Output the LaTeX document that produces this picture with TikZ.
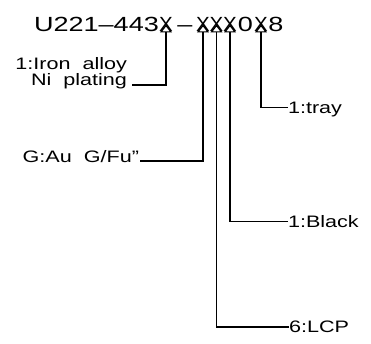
\documentclass[tikz,border=0pt]{standalone}
\usepackage{fontspec}
\setmainfont{Liberation Sans}
\newfontfamily\cadfont[FakeStretch=1.3]{Liberation Sans}
\newfontfamily\ttlfont[FakeStretch=1.32]{Liberation Sans}
\newfontfamily\xfont{Liberation Sans}
\usetikzlibrary{arrows.meta}
\begin{document}
\begin{tikzpicture}[x=1pt,y=-1pt,
  ttl/.style={inner sep=0pt,outer sep=0pt,anchor=base,font=\ttlfont\fontsize{20.5}{20.5}\selectfont},
  xch/.style={inner sep=0pt,outer sep=0pt,anchor=base,font=\xfont\fontsize{20.5}{20.5}\selectfont},
  lbl/.style={inner sep=0pt,outer sep=0pt,font=\cadfont\fontsize{16.6}{16.6}\selectfont},
  rlbl/.style={lbl,anchor=west,text height=11.8pt,text depth=0pt},
  lead/.style={line width=1.5pt,-{Triangle[open,width=12pt,length=8pt,line width=1.2pt]}},
]
\useasboundingbox (0,0) rectangle (371,344);
% title
\node[ttl,anchor=base west] (t1) at (34,31.5) {U221–443};
\node[xch] (x1) at (166,31.5) {X};
\node[ttl] (t2) at (185,31.5) {–};
\node[xch] (x2) at (203,31.5) {X};
\node[xch] (x3) at (216.5,31.5) {X};
\node[xch] (x4) at (230,31.5) {X};
\node[ttl] (t3) at (245.5,31.5) {0};
\node[xch] (x5) at (261,31.5) {X};
\node[ttl] (t4) at (276,31.5) {8};
% labels
\node[lbl,anchor=base east] (iron) at (127,70) {1:Iron\ \ alloy};
\node[lbl,anchor=base east] (ni) at (127,86) {Ni\ \ plating};
\node[lbl,anchor=base east] (gau) at (139,163) {G:Au\ \ G/Fu”};
\node[rlbl] (tray) at (288,107.5) {1:tray};
\node[rlbl] (black) at (288,221.5) {1:Black};
\node[rlbl] (lcp) at (289,327) {6:LCP};
% leaders
\draw[lead] ([xshift=5pt,yshift=1pt]ni.base east) -| ([yshift=7pt]x1.base);
\draw[lead] ([xshift=1pt,yshift=2pt]gau.base east) -| ([yshift=7pt]x2.base);
\draw[lead] (lcp.west) -| ([yshift=7pt]x3.base);
\draw[lead] (black.west) -| ([yshift=7pt]x4.base);
\draw[lead] (tray.west) -| ([yshift=7pt]x5.base);
\end{tikzpicture}
\end{document}
